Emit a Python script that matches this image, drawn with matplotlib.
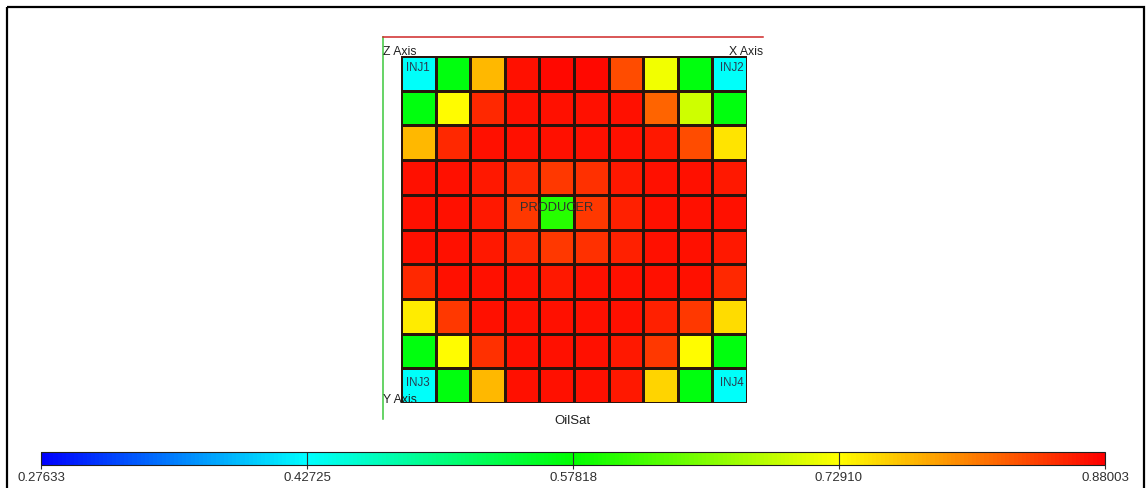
import matplotlib
matplotlib.use("Agg")
import matplotlib.pyplot as plt
from matplotlib.colors import LinearSegmentedColormap, Normalize
from matplotlib.patches import Rectangle
import numpy as np

plt.rcParams['font.family'] = ['Liberation Sans', 'DejaVu Sans']

# oil saturation per grid block, row 0 = top of the map
oil_sat = [
    [0.430, 0.570, 0.770, 0.870, 0.875, 0.875, 0.835, 0.720, 0.570, 0.430],
    [0.570, 0.730, 0.855, 0.870, 0.870, 0.870, 0.870, 0.820, 0.700, 0.570],
    [0.770, 0.855, 0.870, 0.870, 0.870, 0.870, 0.870, 0.865, 0.835, 0.745],
    [0.870, 0.870, 0.865, 0.855, 0.845, 0.850, 0.865, 0.870, 0.870, 0.865],
    [0.870, 0.870, 0.865, 0.845, 0.600, 0.845, 0.860, 0.870, 0.870, 0.870],
    [0.870, 0.870, 0.865, 0.855, 0.845, 0.850, 0.860, 0.870, 0.870, 0.865],
    [0.855, 0.870, 0.870, 0.870, 0.865, 0.870, 0.870, 0.870, 0.870, 0.855],
    [0.740, 0.845, 0.870, 0.870, 0.870, 0.870, 0.870, 0.860, 0.845, 0.750],
    [0.570, 0.730, 0.850, 0.870, 0.870, 0.870, 0.865, 0.845, 0.730, 0.570],
    [0.430, 0.570, 0.770, 0.870, 0.870, 0.870, 0.865, 0.755, 0.570, 0.430],
]
vmin, vmax = 0.27633, 0.88003
cbar_ticks = [0.27633, 0.42725, 0.57818, 0.72910, 0.88003]

# wells: name, column, row
well_names = ["INJ1", "INJ2", "INJ3", "INJ4", "PRODUCER"]
well_cols = [0, 9, 0, 9, 4]
well_rows = [0, 0, 9, 9, 4]

W, H = 1147, 488
fig = plt.figure(figsize=(W / 100, H / 100), dpi=100)

def px_axes(x0, y0, x1, y1):
    # axes placed by pixel box (top-left origin)
    return fig.add_axes([x0 / W, 1 - y1 / H, (x1 - x0) / W, (y1 - y0) / H])

def overlay():
    o = px_axes(0, 0, W, H)
    o.set_xlim(0, W)
    o.set_ylim(H, 0)
    o.axis('off')
    return o

bg = overlay()
bg.add_patch(Rectangle((7, 7), 1137, 490, fill=False, ec='black', lw=1.6))

cmap = LinearSegmentedColormap.from_list(
    "oilsat", ["#0000ff", "#00ffff", "#00ff00", "#ffff00", "#ff0000"])
norm = Normalize(vmin=vmin, vmax=vmax)

ax = px_axes(401, 56, 747, 403)
data = np.array(oil_sat)
mesh = ax.pcolormesh(data, cmap=cmap, norm=norm, edgecolors='#2a140c', linewidth=0.75)
ax.set_xlim(0, data.shape[1])
ax.set_ylim(data.shape[0], 0)
ax.axis('off')

for name, c, r in zip(well_names, well_cols, well_rows):
    if name == "PRODUCER":
        ax.text(c + 0.5, r + 0.38, name, ha='center', va='center', fontsize=9.3, color='#303030')
    else:
        dx = 0.5 if c == 0 else 0.57
        dy = 0.35 if r == 0 else 0.42
        ax.text(c + dx, r + dy, name, ha='center', va='center', fontsize=8.3, color='#2a3a50')

# axis triad lines and labels, drawn over the grid
top = overlay()
top.plot([383, 383], [37, 419], color='#3cc83c', lw=1.1)
top.plot([383, 763], [37, 37], color='#d02828', lw=1.1)
top.text(383, 52, "Z Axis", ha='left', va='center', fontsize=8.8, color='#202020')
top.text(763, 52, "X Axis", ha='right', va='center', fontsize=8.8, color='#202020')
top.text(383, 400, "Y Axis", ha='left', va='center', fontsize=8.8, color='#202020')
top.text(572, 421, "OilSat", ha='center', va='center', fontsize=9.5, color='#202020')

# colour bar
cax = px_axes(41, 452, 1105, 465)
cb = fig.colorbar(mesh, cax=cax, orientation='horizontal')
cb.outline.set_edgecolor('#202020')
cb.outline.set_linewidth(0.8)
cb.set_ticks(cbar_ticks)
cb.set_ticklabels([f"{t:.5f}" for t in cbar_ticks])
cax.tick_params(axis='x', direction='out', length=3, width=0.8, color='#303030',
                labelsize=9.5, labelcolor='#303030', pad=2)
for t in cbar_ticks:
    cax.axvline(t, color='#303030', lw=0.8)

fig.savefig("out.png", dpi=100)
